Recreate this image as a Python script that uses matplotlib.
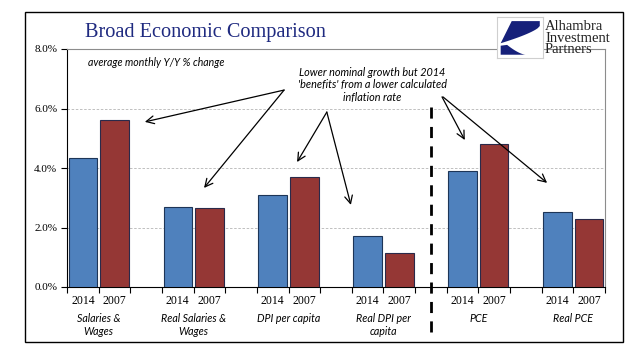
import numpy as np
import matplotlib.pyplot as plt
from matplotlib.patches import Rectangle, Polygon

# data
categories = ["Salaries &\nWages", "Real Salaries &\nWages", "DPI per capita",
              "Real DPI per\ncapita", "PCE", "Real PCE"]
vals_2014 = [4.33, 2.68, 3.08, 1.72, 3.89, 2.51]
vals_2007 = [5.61, 2.67, 3.69, 1.15, 4.80, 2.28]
years = ["2014", "2007"]
yticks = [0, 2, 4, 6, 8]

W, H = 641, 358
fig = plt.figure(figsize=(W / 100, H / 100), dpi=100)


def px(x0, y0, x1, y1):
    # pixel box (top-left origin) -> figure fraction rect
    return [x0 / W, 1 - y1 / H, (x1 - x0) / W, (y1 - y0) / H]


# outer frame
fig.patches.append(Rectangle((25 / W, 1 - 342 / H), 598 / W, 330 / H,
                             transform=fig.transFigure, fill=False,
                             edgecolor='black', lw=1.0))

ax = fig.add_axes(px(67, 49, 605, 287))
n_slots = 3 * len(categories) - 1
slots_2014 = np.arange(len(categories)) * 3
slots_2007 = slots_2014 + 1

ax.bar(slots_2014 + 0.5, vals_2014, width=0.9, color='#4F81BD',
       edgecolor='#1d3557', lw=0.8, zorder=3)
ax.bar(slots_2007 + 0.5, vals_2007, width=0.9, color='#953735',
       edgecolor='#2a2a4a', lw=0.8, zorder=3)

ax.set_xlim(0, n_slots)
ax.set_ylim(0, 8)
ax.set_yticks(yticks)
ax.set_yticklabels([f"{v:.1f}%" for v in yticks], family='Liberation Serif',
                   fontsize=8)
ax.set_xticks(np.arange(n_slots + 1))
ax.set_xticklabels([])
ax.tick_params(axis='both', direction='out', length=4, width=0.8, color='black')
ax.tick_params(axis='y', pad=3)
for v in yticks[1:-1]:
    ax.axhline(v, color='#b5b5b5', lw=0.6, ls=(0, (3, 2)), zorder=1)

ax.spines['left'].set_color('black')
ax.spines['bottom'].set_color('black')
ax.spines['top'].set_color('#8c8c8c')
ax.spines['right'].set_color('#8c8c8c')
for s in ax.spines.values():
    s.set_linewidth(0.8)

# year and category labels under the axis
tr = ax.get_xaxis_transform()
for i, cat in enumerate(categories):
    ax.text(slots_2014[i] + 0.5, -0.035, years[0], transform=tr, ha='center',
            va='top', family='Liberation Serif', fontsize=8.5)
    ax.text(slots_2007[i] + 0.5, -0.035, years[1], transform=tr, ha='center',
            va='top', family='Liberation Serif', fontsize=8.5)
    ax.text(slots_2014[i] + 1.0, -0.11, cat, transform=tr, ha='center',
            va='top', family='Lato', style='italic', fontsize=7.7,
            linespacing=1.2)

# separator between income and spending
ax.plot([11.5, 11.5], [6.05, -1.78], color='black', lw=2,
        ls=(0, (4, 3)), clip_on=False, zorder=4)

ax.text(0.65, 7.55, "average monthly Y/Y % change", family='Lato',
        style='italic', fontsize=7.6, va='center')

ax.text(9.64, 6.79, "Lower nominal growth but 2014\n'benefits' from a lower calculated\ninflation rate",
        family='Lato', style='italic', fontsize=7.8, ha='center', va='center',
        linespacing=1.15)

arrows = [((6.86, 6.62), (2.46, 5.55)),
          ((6.86, 6.62), (4.33, 3.33)),
          ((8.21, 5.88), (7.27, 4.20)),
          ((8.21, 5.88), (8.97, 2.76)),
          ((11.85, 6.39), (12.57, 4.94)),
          ((11.88, 6.39), (15.17, 3.50))]
for tail, head in arrows:
    ax.annotate("", xy=head, xytext=tail,
                arrowprops=dict(arrowstyle='->', lw=0.9, color='black',
                                mutation_scale=14, shrinkA=0, shrinkB=0),
                zorder=5)

# title
fig.text(85 / W, 1 - 33 / H, "Broad Economic Comparison", family='Liberation Serif',
         fontsize=14.6, color='#1f2a80', va='center')

# logo
lax = fig.add_axes(px(497, 17, 543, 58))
lax.set_xlim(0, 1)
lax.set_ylim(0, 1)
lax.set_xticks([])
lax.set_yticks([])
lax.patch.set_facecolor('white')
for s in lax.spines.values():
    s.set_color('#cfcfcf')
    s.set_linewidth(0.8)
t = np.linspace(0, 1, 20)
upper = [(0.32, 0.9), (0.93, 0.9), (0.93, 0.78)] + \
        [(0.93 - 0.85 * u, 0.78 - 0.42 * u ** 0.7) for u in t] + [(0.08, 0.36)]
lower = [(0.08, 0.08), (0.62, 0.08)] + \
        [(0.62 - 0.4 * u, 0.08 + 0.24 * u ** 1.5) for u in t] + [(0.08, 0.3)]
lax.add_patch(Polygon(upper, closed=True, color='#16207a', lw=0))
lax.add_patch(Polygon(lower, closed=True, color='#16207a', lw=0))

fig.text(545 / W, 1 - 20 / H, "Alhambra\nInvestment\nPartners",
         family='Liberation Serif', fontsize=10.5, color='#222222', va='top',
         linespacing=0.85)

fig.savefig("out.png", dpi=100)
